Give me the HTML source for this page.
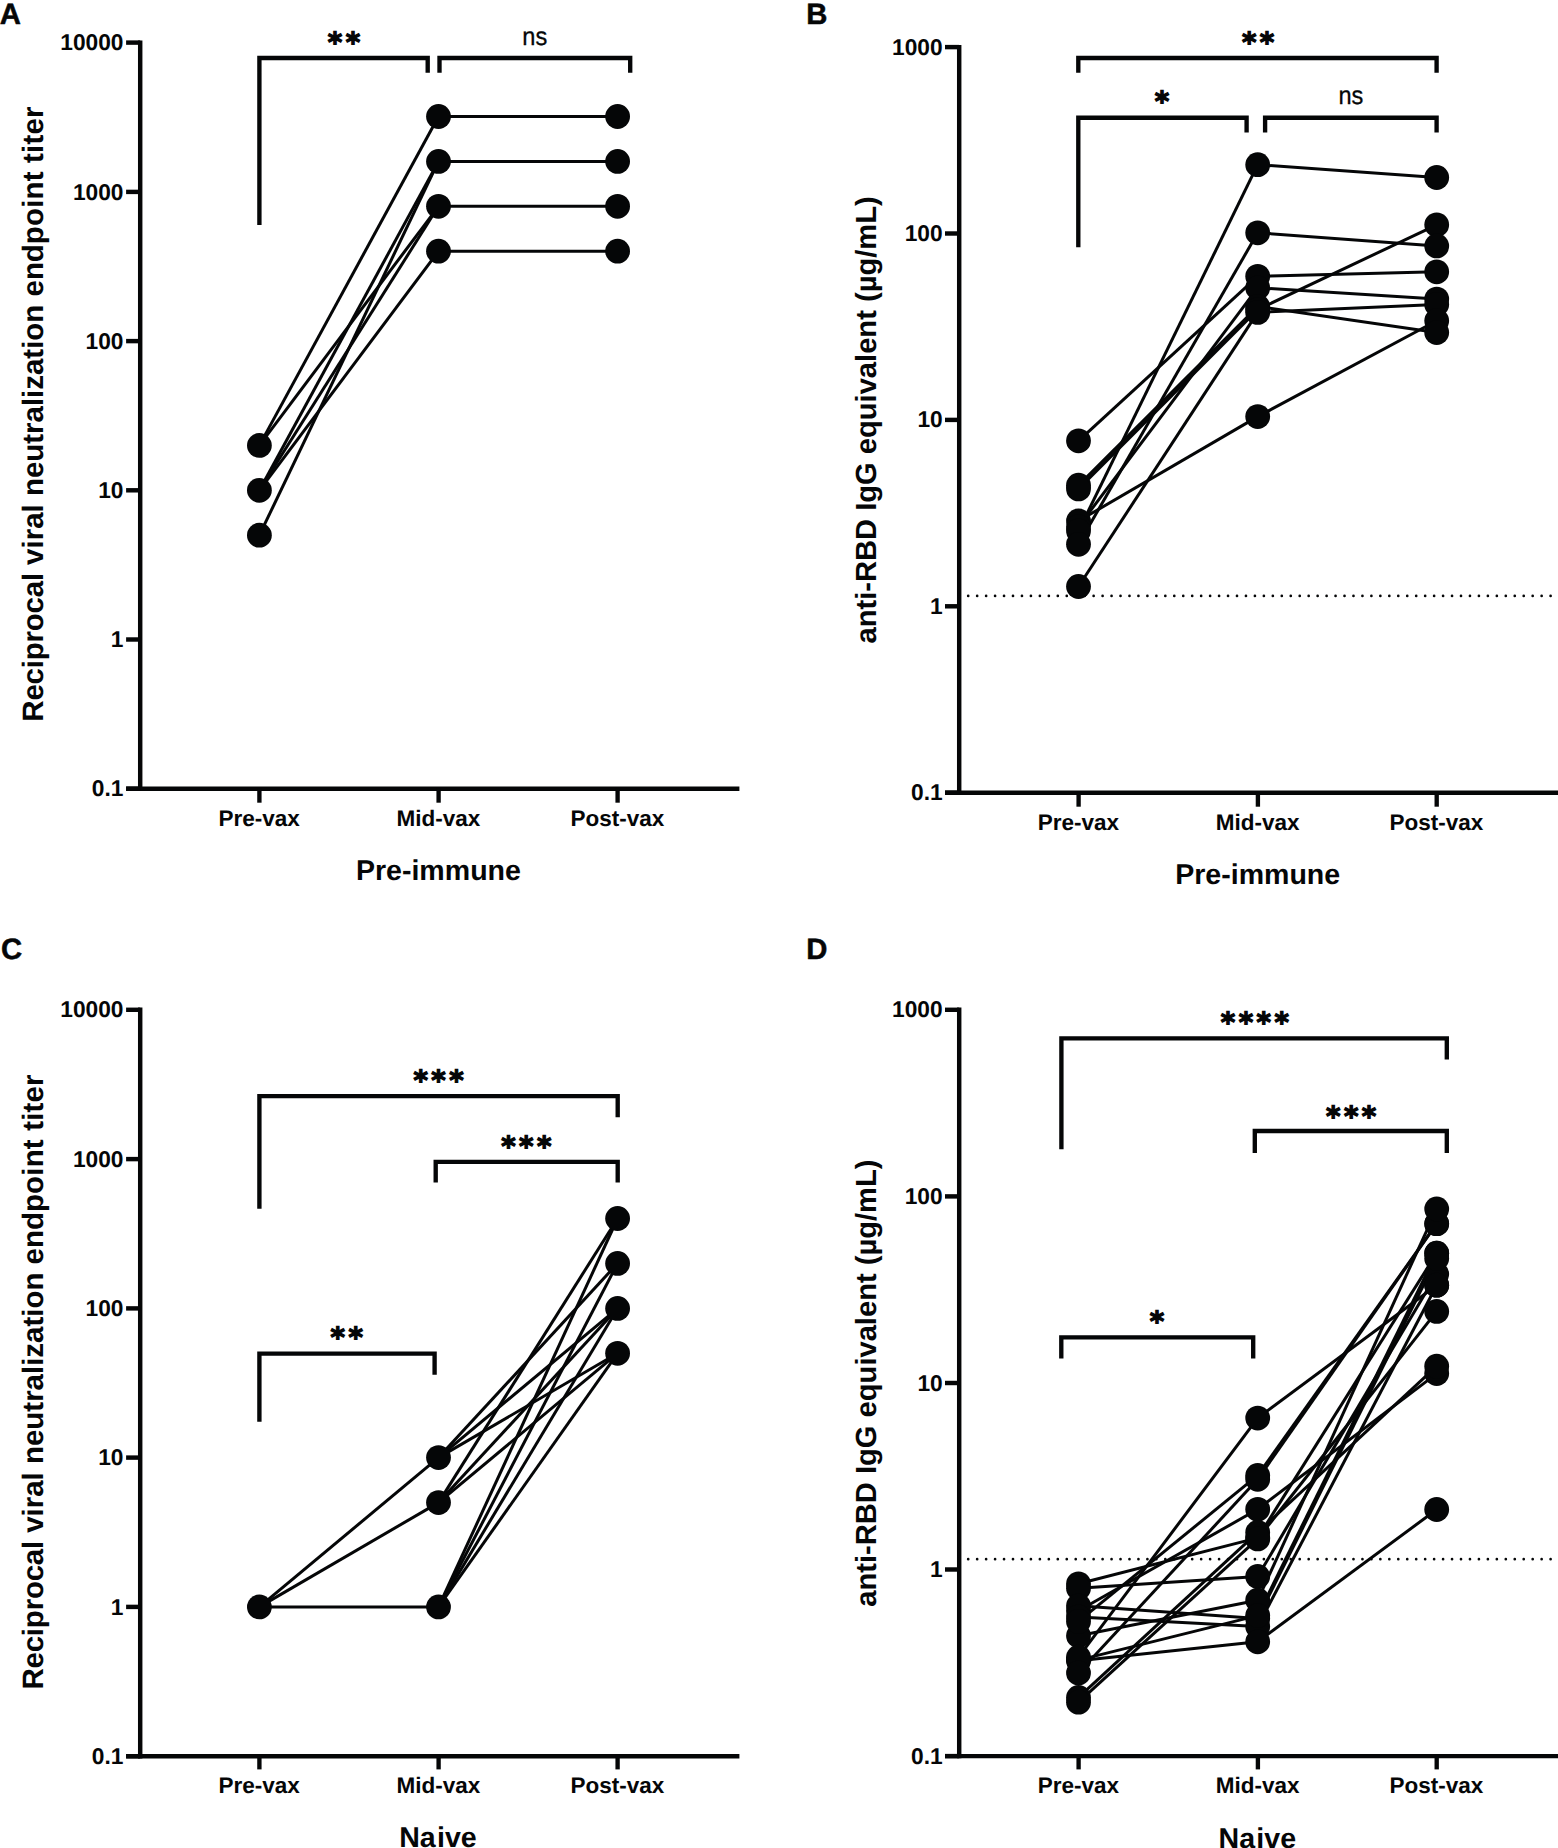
<!DOCTYPE html>
<html lang="en"><head><meta charset="utf-8"><title>Figure</title>
<style>
html,body{margin:0;padding:0;background:#fff;}
body{width:1558px;height:1848px;overflow:hidden;}
svg{display:block;}
svg line, svg polyline{stroke:#050607;}
svg circle{fill:#050607;}
svg text{fill:#050607;text-rendering:geometricPrecision;}
.b{font-family:"Liberation Sans",Arial,Helvetica,sans-serif;font-weight:bold;}
.r{font-family:"Liberation Sans",Arial,Helvetica,sans-serif;font-weight:normal;}
.st{font-family:"DejaVu Sans","Liberation Sans",sans-serif;font-weight:bold;letter-spacing:3.45px;stroke:#050607;stroke-width:1.3px;stroke-linejoin:miter;}
</style></head><body>
<svg width="1558" height="1848" viewBox="0 0 1558 1848">
<rect width="1558" height="1848" fill="#fff"/>
<g id="panelA">
<line x1="140.2" y1="40.4" x2="140.2" y2="790.9" stroke-width="4.45"/>
<line x1="126.1" y1="788.7" x2="739.4" y2="788.7" stroke-width="4.45"/>
<line x1="126.1" y1="42.6" x2="140.2" y2="42.6" stroke-width="4.45"/>
<text x="123.5" y="50.2" font-size="22.75" text-anchor="end" class="b">10000</text>
<line x1="126.1" y1="191.9" x2="140.2" y2="191.9" stroke-width="4.45"/>
<text x="123.5" y="199.5" font-size="22.75" text-anchor="end" class="b">1000</text>
<line x1="126.1" y1="341.1" x2="140.2" y2="341.1" stroke-width="4.45"/>
<text x="123.5" y="348.7" font-size="22.75" text-anchor="end" class="b">100</text>
<line x1="126.1" y1="490.3" x2="140.2" y2="490.3" stroke-width="4.45"/>
<text x="123.5" y="497.9" font-size="22.75" text-anchor="end" class="b">10</text>
<line x1="126.1" y1="639.5" x2="140.2" y2="639.5" stroke-width="4.45"/>
<text x="123.5" y="647.0" font-size="22.75" text-anchor="end" class="b">1</text>
<line x1="126.1" y1="788.7" x2="140.2" y2="788.7" stroke-width="4.45"/>
<text x="123.5" y="796.2" font-size="22.75" text-anchor="end" class="b">0.1</text>
<line x1="259.4" y1="788.7" x2="259.4" y2="802.7" stroke-width="4.35"/>
<text x="259.1" y="825.9" font-size="22.5" text-anchor="middle" class="b">Pre-vax</text>
<line x1="438.6" y1="788.7" x2="438.6" y2="802.7" stroke-width="4.35"/>
<text x="438.3" y="825.9" font-size="22.5" text-anchor="middle" class="b">Mid-vax</text>
<line x1="617.6" y1="788.7" x2="617.6" y2="802.7" stroke-width="4.35"/>
<text x="617.3" y="825.9" font-size="22.5" text-anchor="middle" class="b">Post-vax</text>
<text x="-0.3" y="24.1" font-size="29.3" text-anchor="start" class="b" stroke="#050607" stroke-width="0.5">A</text>
<text transform="translate(43.4,414.1) rotate(-90)" font-size="29.45" text-anchor="middle" class="b" dx="0 -0.2 -0.2 -0.2 -0.2 -0.2 -0.2 -0.2 -0.2 -0.2 -0.2 0 0 0 0 0 0 0 0 0 0 0 0 0 0 0 0 0 0 0 0 0 0 0 0 0 0.18 0.18 0.18 0.18 0.18 0.18 0.18 0.18 0.18 0.18">Reciprocal viral neutralization endpoint titer</text>
<text x="438.4" y="880.1" font-size="28.55" text-anchor="middle" class="b">Pre-immune</text>
<line x1="259.4" y1="445.4" x2="438.5" y2="116.5" stroke-width="3.0"/>
<line x1="259.4" y1="445.4" x2="438.5" y2="206.3" stroke-width="3.0"/>
<line x1="259.4" y1="490.3" x2="438.5" y2="161.4" stroke-width="3.0"/>
<line x1="259.4" y1="490.3" x2="438.5" y2="206.3" stroke-width="3.0"/>
<line x1="259.4" y1="490.3" x2="438.5" y2="251.2" stroke-width="3.0"/>
<line x1="259.4" y1="535.2" x2="438.5" y2="161.4" stroke-width="3.0"/>
<line x1="438.5" y1="116.5" x2="617.6" y2="116.5" stroke-width="3.0"/>
<line x1="438.5" y1="161.4" x2="617.6" y2="161.4" stroke-width="3.0"/>
<line x1="438.5" y1="206.3" x2="617.6" y2="206.3" stroke-width="3.0"/>
<line x1="438.5" y1="251.2" x2="617.6" y2="251.2" stroke-width="3.0"/>
<circle cx="259.4" cy="445.4" r="12.4"/>
<circle cx="259.4" cy="490.3" r="12.4"/>
<circle cx="259.4" cy="535.2" r="12.4"/>
<circle cx="438.5" cy="116.5" r="12.4"/>
<circle cx="617.6" cy="116.5" r="12.4"/>
<circle cx="438.5" cy="161.4" r="12.4"/>
<circle cx="617.6" cy="161.4" r="12.4"/>
<circle cx="438.5" cy="206.3" r="12.4"/>
<circle cx="617.6" cy="206.3" r="12.4"/>
<circle cx="438.5" cy="251.2" r="12.4"/>
<circle cx="617.6" cy="251.2" r="12.4"/>
<polyline points="259.4,224.9 259.4,58.0 427.7,58.0 427.7,72.7" fill="none" stroke-width="4.35" stroke-linejoin="miter"/>
<polyline points="439.5,72.7 439.5,58.0 630.2,58.0 630.2,72.7" fill="none" stroke-width="4.35" stroke-linejoin="miter"/>
<text x="345.7" y="51.9" font-size="27.6" text-anchor="middle" class="st">**</text>
<text transform="translate(534.8,45.3) scale(0.925,1)" font-size="25.5" text-anchor="middle" class="r" stroke="#050607" stroke-width="0.3">ns</text>
</g>
<g id="panelC">
<line x1="140.2" y1="1007.6" x2="140.2" y2="1758.4" stroke-width="4.45"/>
<line x1="126.1" y1="1756.2" x2="739.4" y2="1756.2" stroke-width="4.45"/>
<line x1="126.1" y1="1009.8" x2="140.2" y2="1009.8" stroke-width="4.45"/>
<text x="123.5" y="1017.3" font-size="22.75" text-anchor="end" class="b">10000</text>
<line x1="126.1" y1="1159.1" x2="140.2" y2="1159.1" stroke-width="4.45"/>
<text x="123.5" y="1166.6" font-size="22.75" text-anchor="end" class="b">1000</text>
<line x1="126.1" y1="1308.4" x2="140.2" y2="1308.4" stroke-width="4.45"/>
<text x="123.5" y="1316.0" font-size="22.75" text-anchor="end" class="b">100</text>
<line x1="126.1" y1="1457.6" x2="140.2" y2="1457.6" stroke-width="4.45"/>
<text x="123.5" y="1465.1" font-size="22.75" text-anchor="end" class="b">10</text>
<line x1="126.1" y1="1606.9" x2="140.2" y2="1606.9" stroke-width="4.45"/>
<text x="123.5" y="1614.5" font-size="22.75" text-anchor="end" class="b">1</text>
<line x1="126.1" y1="1756.2" x2="140.2" y2="1756.2" stroke-width="4.45"/>
<text x="123.5" y="1763.8" font-size="22.75" text-anchor="end" class="b">0.1</text>
<line x1="259.4" y1="1756.2" x2="259.4" y2="1769.4" stroke-width="4.35"/>
<text x="259.1" y="1792.7" font-size="22.5" text-anchor="middle" class="b">Pre-vax</text>
<line x1="438.6" y1="1756.2" x2="438.6" y2="1769.4" stroke-width="4.35"/>
<text x="438.3" y="1792.7" font-size="22.5" text-anchor="middle" class="b">Mid-vax</text>
<line x1="617.6" y1="1756.2" x2="617.6" y2="1769.4" stroke-width="4.35"/>
<text x="617.3" y="1792.7" font-size="22.5" text-anchor="middle" class="b">Post-vax</text>
<text x="0.9" y="958.7" font-size="29.3" text-anchor="start" class="b" stroke="#050607" stroke-width="0.5">C</text>
<text transform="translate(43.4,1382.0) rotate(-90)" font-size="29.45" text-anchor="middle" class="b" dx="0 -0.2 -0.2 -0.2 -0.2 -0.2 -0.2 -0.2 -0.2 -0.2 -0.2 0 0 0 0 0 0 0 0 0 0 0 0 0 0 0 0 0 0 0 0 0 0 0 0 0 0.18 0.18 0.18 0.18 0.18 0.18 0.18 0.18 0.18 0.18">Reciprocal viral neutralization endpoint titer</text>
<text x="437.9" y="1846.9" font-size="28.55" text-anchor="middle" class="b" dx="0 0 1.3">Naive</text>
<line x1="259.4" y1="1606.9" x2="438.5" y2="1457.6" stroke-width="3.0"/>
<line x1="259.4" y1="1606.9" x2="438.5" y2="1502.6" stroke-width="3.0"/>
<line x1="259.4" y1="1606.9" x2="438.5" y2="1606.9" stroke-width="3.0"/>
<line x1="438.5" y1="1502.6" x2="617.6" y2="1218.5" stroke-width="3.0"/>
<line x1="438.5" y1="1606.9" x2="617.6" y2="1218.5" stroke-width="3.0"/>
<line x1="438.5" y1="1457.6" x2="617.6" y2="1263.4" stroke-width="3.0"/>
<line x1="438.5" y1="1606.9" x2="617.6" y2="1263.4" stroke-width="3.0"/>
<line x1="438.5" y1="1457.6" x2="617.6" y2="1308.4" stroke-width="3.0"/>
<line x1="438.5" y1="1502.6" x2="617.6" y2="1308.4" stroke-width="3.0"/>
<line x1="438.5" y1="1606.9" x2="617.6" y2="1308.4" stroke-width="3.0"/>
<line x1="438.5" y1="1457.6" x2="617.6" y2="1353.3" stroke-width="3.0"/>
<line x1="438.5" y1="1502.6" x2="617.6" y2="1353.3" stroke-width="3.0"/>
<line x1="438.5" y1="1606.9" x2="617.6" y2="1353.3" stroke-width="3.0"/>
<circle cx="259.4" cy="1606.9" r="12.4"/>
<circle cx="438.5" cy="1457.6" r="12.4"/>
<circle cx="438.5" cy="1502.6" r="12.4"/>
<circle cx="438.5" cy="1606.9" r="12.4"/>
<circle cx="617.6" cy="1218.5" r="12.4"/>
<circle cx="617.6" cy="1263.4" r="12.4"/>
<circle cx="617.6" cy="1308.4" r="12.4"/>
<circle cx="617.6" cy="1353.3" r="12.4"/>
<polyline points="259.4,1208.8 259.4,1096.1 617.7,1096.1 617.7,1117.2" fill="none" stroke-width="4.35" stroke-linejoin="miter"/>
<polyline points="435.7,1182.6 435.7,1161.8 617.7,1161.8 617.7,1182.6" fill="none" stroke-width="4.35" stroke-linejoin="miter"/>
<polyline points="259.4,1421.7 259.4,1353.6 434.6,1353.6 434.6,1374.8" fill="none" stroke-width="4.35" stroke-linejoin="miter"/>
<text x="440.2" y="1090.0" font-size="27.6" text-anchor="middle" class="st">***</text>
<text x="528.0" y="1155.5" font-size="27.6" text-anchor="middle" class="st">***</text>
<text x="348.4" y="1347.3" font-size="27.6" text-anchor="middle" class="st">**</text>
</g>
<g id="panelB">
<line x1="959.2" y1="44.9" x2="959.2" y2="794.9" stroke-width="4.45"/>
<line x1="945.0" y1="792.7" x2="1560.0" y2="792.7" stroke-width="4.45"/>
<line x1="945.0" y1="47.1" x2="959.2" y2="47.1" stroke-width="4.45"/>
<text x="942.7" y="54.6" font-size="22.75" text-anchor="end" class="b">1000</text>
<line x1="945.0" y1="233.5" x2="959.2" y2="233.5" stroke-width="4.45"/>
<text x="942.7" y="241.1" font-size="22.75" text-anchor="end" class="b">100</text>
<line x1="945.0" y1="419.9" x2="959.2" y2="419.9" stroke-width="4.45"/>
<text x="942.7" y="427.4" font-size="22.75" text-anchor="end" class="b">10</text>
<line x1="945.0" y1="606.3" x2="959.2" y2="606.3" stroke-width="4.45"/>
<text x="942.7" y="613.8" font-size="22.75" text-anchor="end" class="b">1</text>
<line x1="945.0" y1="792.7" x2="959.2" y2="792.7" stroke-width="4.45"/>
<text x="942.7" y="800.2" font-size="22.75" text-anchor="end" class="b">0.1</text>
<line x1="1078.6" y1="792.7" x2="1078.6" y2="806.7" stroke-width="4.35"/>
<text x="1078.3" y="829.6" font-size="22.5" text-anchor="middle" class="b">Pre-vax</text>
<line x1="1257.9" y1="792.7" x2="1257.9" y2="806.7" stroke-width="4.35"/>
<text x="1257.6" y="829.6" font-size="22.5" text-anchor="middle" class="b">Mid-vax</text>
<line x1="1436.7" y1="792.7" x2="1436.7" y2="806.7" stroke-width="4.35"/>
<text x="1436.4" y="829.6" font-size="22.5" text-anchor="middle" class="b">Post-vax</text>
<text x="806.3" y="24.0" font-size="29.3" text-anchor="start" class="b" stroke="#050607" stroke-width="0.5">B</text>
<text transform="translate(875.6,419.9) rotate(-90)" font-size="29.13" text-anchor="middle" class="b">anti-RBD IgG equivalent (µg/mL)</text>
<text x="1257.7" y="884.0" font-size="28.55" text-anchor="middle" class="b">Pre-immune</text>
<line x1="968.2" y1="595.9" x2="1552" y2="595.9" stroke-width="2.7" stroke-linecap="round" stroke-dasharray="0 8.96"/>
<line x1="1078.5" y1="440.8" x2="1257.7" y2="276.3" stroke-width="3.0"/>
<line x1="1078.5" y1="485.2" x2="1257.7" y2="306.5" stroke-width="3.0"/>
<line x1="1078.5" y1="488.9" x2="1257.7" y2="309.6" stroke-width="3.0"/>
<line x1="1078.5" y1="521.0" x2="1257.7" y2="416.6" stroke-width="3.0"/>
<line x1="1078.5" y1="526.7" x2="1257.7" y2="287.8" stroke-width="3.0"/>
<line x1="1078.5" y1="531.0" x2="1257.7" y2="164.7" stroke-width="3.0"/>
<line x1="1078.5" y1="544.3" x2="1257.7" y2="232.8" stroke-width="3.0"/>
<line x1="1078.5" y1="586.5" x2="1257.7" y2="312.4" stroke-width="3.0"/>
<line x1="1257.7" y1="164.7" x2="1436.7" y2="177.5" stroke-width="3.0"/>
<line x1="1257.7" y1="232.8" x2="1436.7" y2="245.9" stroke-width="3.0"/>
<line x1="1257.7" y1="276.3" x2="1436.7" y2="271.8" stroke-width="3.0"/>
<line x1="1257.7" y1="287.8" x2="1436.7" y2="299.1" stroke-width="3.0"/>
<line x1="1257.7" y1="309.6" x2="1436.7" y2="224.8" stroke-width="3.0"/>
<line x1="1257.7" y1="312.4" x2="1436.7" y2="304.5" stroke-width="3.0"/>
<line x1="1257.7" y1="306.5" x2="1436.7" y2="332.6" stroke-width="3.0"/>
<line x1="1257.7" y1="416.6" x2="1436.7" y2="320.7" stroke-width="3.0"/>
<circle cx="1078.5" cy="440.8" r="12.4"/>
<circle cx="1078.5" cy="485.2" r="12.4"/>
<circle cx="1078.5" cy="488.9" r="12.4"/>
<circle cx="1078.5" cy="521.0" r="12.4"/>
<circle cx="1078.5" cy="526.7" r="12.4"/>
<circle cx="1078.5" cy="531.0" r="12.4"/>
<circle cx="1078.5" cy="544.3" r="12.4"/>
<circle cx="1078.5" cy="586.5" r="12.4"/>
<circle cx="1257.7" cy="164.7" r="12.4"/>
<circle cx="1257.7" cy="232.8" r="12.4"/>
<circle cx="1257.7" cy="276.3" r="12.4"/>
<circle cx="1257.7" cy="287.8" r="12.4"/>
<circle cx="1257.7" cy="306.5" r="12.4"/>
<circle cx="1257.7" cy="309.6" r="12.4"/>
<circle cx="1257.7" cy="312.4" r="12.4"/>
<circle cx="1257.7" cy="416.6" r="12.4"/>
<circle cx="1436.7" cy="177.5" r="12.4"/>
<circle cx="1436.7" cy="224.8" r="12.4"/>
<circle cx="1436.7" cy="245.9" r="12.4"/>
<circle cx="1436.7" cy="271.8" r="12.4"/>
<circle cx="1436.7" cy="299.1" r="12.4"/>
<circle cx="1436.7" cy="304.5" r="12.4"/>
<circle cx="1436.7" cy="320.7" r="12.4"/>
<circle cx="1436.7" cy="332.6" r="12.4"/>
<polyline points="1078.3,72.7 1078.3,58.0 1436.6,58.0 1436.6,72.7" fill="none" stroke-width="4.35" stroke-linejoin="miter"/>
<polyline points="1078.3,247.2 1078.3,117.7 1246.6,117.7 1246.6,132.5" fill="none" stroke-width="4.35" stroke-linejoin="miter"/>
<polyline points="1265.1,132.5 1265.1,117.7 1436.6,117.7 1436.6,132.5" fill="none" stroke-width="4.35" stroke-linejoin="miter"/>
<text x="1259.8" y="51.9" font-size="27.6" text-anchor="middle" class="st">**</text>
<text x="1163.7" y="111.1" font-size="27.6" text-anchor="middle" class="st">*</text>
<text transform="translate(1350.9,104.3) scale(0.925,1)" font-size="25.5" text-anchor="middle" class="r" stroke="#050607" stroke-width="0.3">ns</text>
</g>
<g id="panelD">
<line x1="959.2" y1="1007.6" x2="959.2" y2="1758.3" stroke-width="4.45"/>
<line x1="945.0" y1="1756.1" x2="1560.0" y2="1756.1" stroke-width="4.45"/>
<line x1="945.0" y1="1009.8" x2="959.2" y2="1009.8" stroke-width="4.45"/>
<text x="942.7" y="1017.3" font-size="22.75" text-anchor="end" class="b">1000</text>
<line x1="945.0" y1="1196.4" x2="959.2" y2="1196.4" stroke-width="4.45"/>
<text x="942.7" y="1204.0" font-size="22.75" text-anchor="end" class="b">100</text>
<line x1="945.0" y1="1383.0" x2="959.2" y2="1383.0" stroke-width="4.45"/>
<text x="942.7" y="1390.5" font-size="22.75" text-anchor="end" class="b">10</text>
<line x1="945.0" y1="1569.5" x2="959.2" y2="1569.5" stroke-width="4.45"/>
<text x="942.7" y="1577.0" font-size="22.75" text-anchor="end" class="b">1</text>
<line x1="945.0" y1="1756.1" x2="959.2" y2="1756.1" stroke-width="4.45"/>
<text x="942.7" y="1763.6" font-size="22.75" text-anchor="end" class="b">0.1</text>
<line x1="1078.6" y1="1756.1" x2="1078.6" y2="1769.4" stroke-width="4.35"/>
<text x="1078.3" y="1793.3" font-size="22.5" text-anchor="middle" class="b">Pre-vax</text>
<line x1="1257.9" y1="1756.1" x2="1257.9" y2="1769.4" stroke-width="4.35"/>
<text x="1257.6" y="1793.3" font-size="22.5" text-anchor="middle" class="b">Mid-vax</text>
<line x1="1436.7" y1="1756.1" x2="1436.7" y2="1769.4" stroke-width="4.35"/>
<text x="1436.4" y="1793.3" font-size="22.5" text-anchor="middle" class="b">Post-vax</text>
<text x="806.3" y="958.7" font-size="29.3" text-anchor="start" class="b" stroke="#050607" stroke-width="0.5">D</text>
<text transform="translate(875.6,1383.1) rotate(-90)" font-size="29.13" text-anchor="middle" class="b">anti-RBD IgG equivalent (µg/mL)</text>
<text x="1257.3" y="1847.5" font-size="28.55" text-anchor="middle" class="b" dx="0 0 1.3">Naive</text>
<line x1="968.2" y1="1559.2" x2="1552" y2="1559.2" stroke-width="2.7" stroke-linecap="round" stroke-dasharray="0 8.96"/>
<line x1="1078.5" y1="1583.8" x2="1257.7" y2="1537.9" stroke-width="3.0"/>
<line x1="1078.5" y1="1588.3" x2="1257.7" y2="1576.5" stroke-width="3.0"/>
<line x1="1078.5" y1="1610.8" x2="1257.7" y2="1509.3" stroke-width="3.0"/>
<line x1="1078.5" y1="1605.8" x2="1257.7" y2="1618.4" stroke-width="3.0"/>
<line x1="1078.5" y1="1617.0" x2="1257.7" y2="1626.5" stroke-width="3.0"/>
<line x1="1078.5" y1="1635.7" x2="1257.7" y2="1600.2" stroke-width="3.0"/>
<line x1="1078.5" y1="1660.1" x2="1257.7" y2="1615.6" stroke-width="3.0"/>
<line x1="1078.5" y1="1660.7" x2="1257.7" y2="1641.8" stroke-width="3.0"/>
<line x1="1078.5" y1="1657.2" x2="1257.7" y2="1418.1" stroke-width="3.0"/>
<line x1="1078.5" y1="1621.4" x2="1257.7" y2="1475.4" stroke-width="3.0"/>
<line x1="1078.5" y1="1673.0" x2="1257.7" y2="1479.3" stroke-width="3.0"/>
<line x1="1078.5" y1="1697.4" x2="1257.7" y2="1532.4" stroke-width="3.0"/>
<line x1="1078.5" y1="1702.2" x2="1257.7" y2="1538.9" stroke-width="3.0"/>
<line x1="1257.7" y1="1418.1" x2="1436.7" y2="1285.2" stroke-width="3.0"/>
<line x1="1257.7" y1="1475.4" x2="1436.7" y2="1223.7" stroke-width="3.0"/>
<line x1="1257.7" y1="1479.3" x2="1436.7" y2="1223.7" stroke-width="3.0"/>
<line x1="1257.7" y1="1509.3" x2="1436.7" y2="1373.6" stroke-width="3.0"/>
<line x1="1257.7" y1="1532.4" x2="1436.7" y2="1366.2" stroke-width="3.0"/>
<line x1="1257.7" y1="1641.8" x2="1436.7" y2="1509.5" stroke-width="3.0"/>
<line x1="1257.7" y1="1537.9" x2="1436.7" y2="1253.2" stroke-width="3.0"/>
<line x1="1257.7" y1="1538.9" x2="1436.7" y2="1311.4" stroke-width="3.0"/>
<line x1="1257.7" y1="1576.5" x2="1436.7" y2="1274.0" stroke-width="3.0"/>
<line x1="1257.7" y1="1600.2" x2="1436.7" y2="1208.9" stroke-width="3.0"/>
<line x1="1257.7" y1="1615.6" x2="1436.7" y2="1253.2" stroke-width="3.0"/>
<line x1="1257.7" y1="1618.4" x2="1436.7" y2="1258.6" stroke-width="3.0"/>
<line x1="1257.7" y1="1626.5" x2="1436.7" y2="1285.2" stroke-width="3.0"/>
<circle cx="1078.5" cy="1583.8" r="12.4"/>
<circle cx="1257.7" cy="1537.9" r="12.4"/>
<circle cx="1078.5" cy="1588.3" r="12.4"/>
<circle cx="1257.7" cy="1576.5" r="12.4"/>
<circle cx="1078.5" cy="1610.8" r="12.4"/>
<circle cx="1257.7" cy="1509.3" r="12.4"/>
<circle cx="1078.5" cy="1605.8" r="12.4"/>
<circle cx="1257.7" cy="1618.4" r="12.4"/>
<circle cx="1078.5" cy="1617.0" r="12.4"/>
<circle cx="1257.7" cy="1626.5" r="12.4"/>
<circle cx="1078.5" cy="1635.7" r="12.4"/>
<circle cx="1257.7" cy="1600.2" r="12.4"/>
<circle cx="1078.5" cy="1660.1" r="12.4"/>
<circle cx="1257.7" cy="1615.6" r="12.4"/>
<circle cx="1078.5" cy="1660.7" r="12.4"/>
<circle cx="1257.7" cy="1641.8" r="12.4"/>
<circle cx="1078.5" cy="1657.2" r="12.4"/>
<circle cx="1257.7" cy="1418.1" r="12.4"/>
<circle cx="1078.5" cy="1621.4" r="12.4"/>
<circle cx="1257.7" cy="1475.4" r="12.4"/>
<circle cx="1078.5" cy="1673.0" r="12.4"/>
<circle cx="1257.7" cy="1479.3" r="12.4"/>
<circle cx="1078.5" cy="1697.4" r="12.4"/>
<circle cx="1257.7" cy="1532.4" r="12.4"/>
<circle cx="1078.5" cy="1702.2" r="12.4"/>
<circle cx="1257.7" cy="1538.9" r="12.4"/>
<circle cx="1436.7" cy="1285.2" r="12.4"/>
<circle cx="1436.7" cy="1223.7" r="12.4"/>
<circle cx="1436.7" cy="1223.7" r="12.4"/>
<circle cx="1436.7" cy="1373.6" r="12.4"/>
<circle cx="1436.7" cy="1366.2" r="12.4"/>
<circle cx="1436.7" cy="1509.5" r="12.4"/>
<circle cx="1436.7" cy="1253.2" r="12.4"/>
<circle cx="1436.7" cy="1311.4" r="12.4"/>
<circle cx="1436.7" cy="1274.0" r="12.4"/>
<circle cx="1436.7" cy="1208.9" r="12.4"/>
<circle cx="1436.7" cy="1253.2" r="12.4"/>
<circle cx="1436.7" cy="1258.6" r="12.4"/>
<circle cx="1436.7" cy="1285.2" r="12.4"/>
<polyline points="1061.4,1149.3 1061.4,1038.4 1446.8,1038.4 1446.8,1059.4" fill="none" stroke-width="4.35" stroke-linejoin="miter"/>
<polyline points="1254.8,1152.9 1254.8,1131.0 1446.8,1131.0 1446.8,1152.9" fill="none" stroke-width="4.35" stroke-linejoin="miter"/>
<polyline points="1061.3,1358.6 1061.3,1337.4 1253.2,1337.4 1253.2,1358.6" fill="none" stroke-width="4.35" stroke-linejoin="miter"/>
<text x="1256.6" y="1032.0" font-size="27.6" text-anchor="middle" class="st">****</text>
<text x="1352.9" y="1125.7" font-size="27.6" text-anchor="middle" class="st">***</text>
<text x="1158.7" y="1330.9" font-size="27.6" text-anchor="middle" class="st">*</text>
</g>
</svg></body></html>
